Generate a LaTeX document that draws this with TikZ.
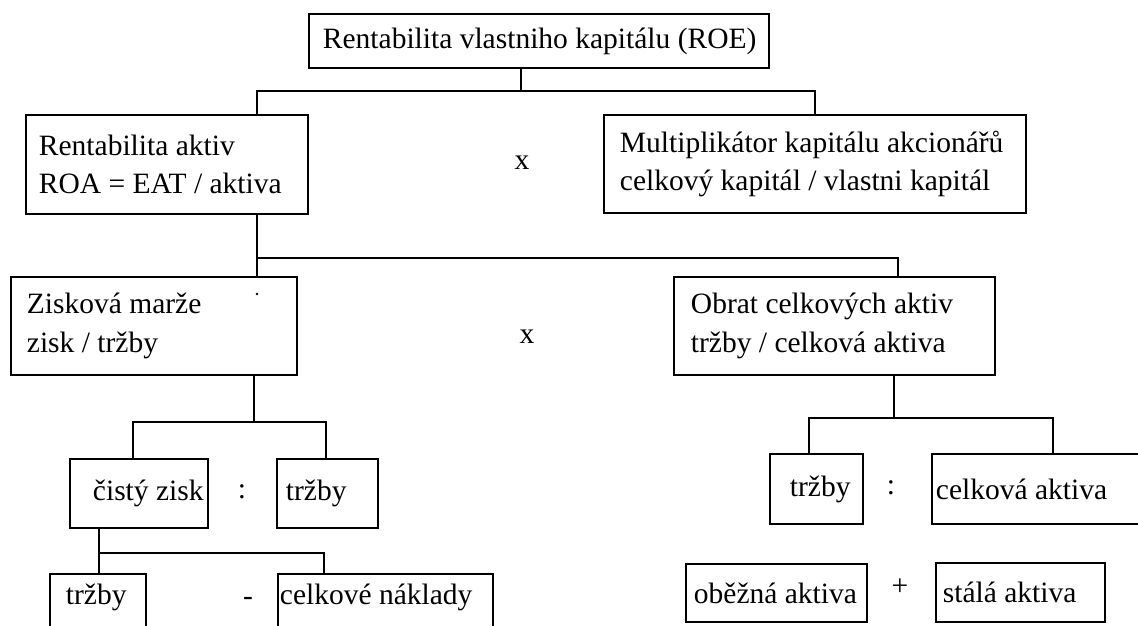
\documentclass[tikz,border=0pt]{standalone}
\usepackage{fontspec}
\setmainfont{Liberation Serif}
\usepackage{tikz}
\newcommand{\boxfont}{\fontsize{29.5}{38.5}\selectfont}

\begin{document}
\begin{tikzpicture}[x=1pt,y=-1pt,every node/.style={font=\boxfont},
  cell/.style={draw,line width=1.9pt,anchor=north west,inner xsep=0pt,inner ysep=0pt,align=left},
  pad/.style={execute at begin node={\leftskip=#1\rightskip=0pt plus 1fil\spaceskip=0pt\xspaceskip=0pt\relax}},
  link/.style={line width=1.9pt}]
\useasboundingbox (0,0) rectangle (1138,625);
\fill[white] (0,0) rectangle (1138,625);
\clip (0,0) rectangle (1138,625);
% top level
\node[cell,pad=14pt,text width=460pt,minimum height=54pt] (roe) at (308,13) {Rentabilita vlastniho kapitálu (ROE)};
\node[cell,pad=13pt,text width=282pt,minimum height=99pt] (roa) at (25,114) {Rentabilita aktiv\\ROA = EAT / aktiva};
\node[cell,pad=16pt,text width=422pt,minimum height=98pt] (mult) at (603,114) {Multiplikátor kapitálu akcionářů\\celkový kapitál / vlastni kapitál};
\node (times1) at (522,163) {x};
% second level
\node[cell,pad=16pt,text width=286pt,minimum height=98pt] (zisk) at (10,276) {Zisková marže\\zisk / tržby};
\node[cell,pad=17pt,text width=321pt,minimum height=98pt] (obrat) at (673,276) {Obrat celkových aktiv\\tržby / celková aktiva};
\node (times2) at (527,337) {x};
\fill (257,294) circle (1.3pt);
% third level
\node[cell,pad=23pt,text width=138pt,minimum height=69pt] (cisty) at (69,458) {čistý zisk};
\node[cell,pad=9pt,text width=101pt,minimum height=69pt] (trzbyA) at (276,458) {tržby};
\node (div1) at (242,492) {:};
\node[cell,pad=20pt,text width=93pt,minimum height=70pt] (trzbyC) at (769,453) {tržby};
\node[cell,pad=4pt,text width=230pt,minimum height=70pt] (celkova) at (931,453) {celková aktiva};
\node (div2) at (891,488) {:};
% bottom level
\node[cell,pad=16pt,text width=96pt,text height=31pt,text depth=40pt] (trzbyB) at (49,573) {tržby};
\node[cell,pad=2pt,text width=215pt,text height=31pt,text depth=40pt] (naklady) at (277,573) {celkové náklady};
\node (minus) at (248,601) {-};
\node[cell,pad=8pt,text width=181pt,minimum height=58pt] (obezna) at (685,563) {oběžná aktiva};
\node[cell,pad=7pt,text width=169pt,minimum height=59pt] (stala) at (935,562) {stálá aktiva};
\node (plus) at (900,587) {+};
% connectors
\draw[link] ([xshift=-18pt]roe.south) -- ++(0,22) coordinate (j1);
\draw[link] ([xshift=232pt]roa.north west) |- (j1) -| (mult.north);
\draw[link] ([xshift=232pt]roa.south west) -- ++(0,43) coordinate (j2);
\draw[link] ([xshift=247pt]zisk.north west) |- (j2) -| ([xshift=225pt]obrat.north west);
\draw[link] ([xshift=244pt]zisk.south west) -- ++(0,46) coordinate (j3);
\draw[link] ([xshift=64pt]cisty.north west) |- (j3) -| ([xshift=50pt]trzbyA.north west);
\draw[link] ([xshift=30pt]cisty.south west) -- ++(0,24) coordinate (j4);
\draw[link] ([xshift=50pt]trzbyB.north west) |- (j4) -| ([xshift=47pt]naklady.north west);
\draw[link] ([xshift=221pt]obrat.south west) -- ++(0,42) coordinate (j5);
\draw[link] ([xshift=40pt]trzbyC.north west) |- (j5) -| ([xshift=122pt]celkova.north west);
\end{tikzpicture}
\end{document}
